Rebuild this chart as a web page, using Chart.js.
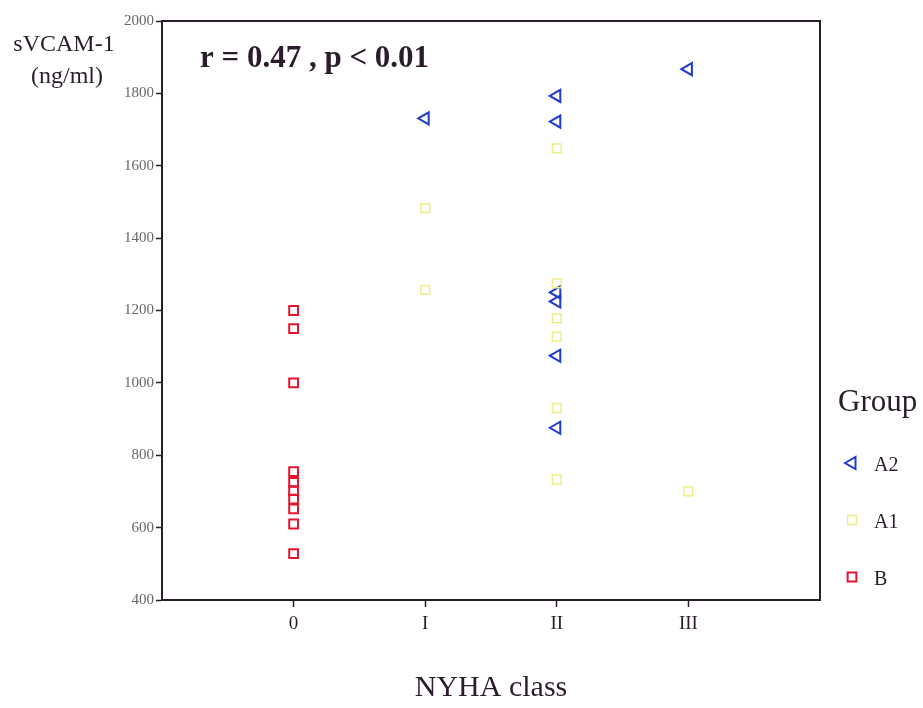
<!DOCTYPE html>
<html>
<head>
<meta charset="utf-8">
<script src="https://cdn.jsdelivr.net/npm/chart.js@4/dist/chart.umd.min.js"></script>
<style>
  html, body { margin: 0; background: #fff; }
  #wrap { width: 923px; height: 708px; }
</style>
</head>
<body>
<div id="wrap"><canvas id="chart" width="923" height="708"></canvas></div>
<script>
// NYHA class categories (x = 0..3)
const classLabels = ['0', 'I', 'II', 'III'];
const yTicks = [400, 600, 800, 1000, 1200, 1400, 1600, 1800, 2000];
const groupNames = ['A2', 'A1', 'B'];

// sVCAM-1 (ng/ml) per group
const a2Class  = [1, 2, 2, 2, 2, 2, 2, 3];
const a2Values = [1731, 1793, 1722, 1250, 1225, 1075, 876, 1867];
const a1Class  = [1, 1, 2, 2, 2, 2, 2, 2, 3];
const a1Values = [1483, 1257, 1648, 1275, 1178, 1128, 930, 733, 700];
const bClass   = [0, 0, 0, 0, 0, 0, 0, 0, 0, 0];
const bValues  = [1200, 1150, 1000, 755, 725, 702, 679, 652, 610, 528];

const statText = 'r = 0.47 , p < 0.01';

const INK = '#2a1c2a';
const SERIF = '"Liberation Serif", "DejaVu Serif", serif';

const toPoints = (xs, ys) => xs.map((x, i) => ({ x: x, y: ys[i] }));

const styles = {
    A2: { pointStyle: 'triangle', rotation: -90, radius: 7, borderWidth: 2, color: '#1f3ccc' },
    A1: { pointStyle: 'rect', rotation: 0, radius: 6.2, borderWidth: 1.5, color: '#eeee84' },
    B:  { pointStyle: 'rect', rotation: 0, radius: 6.2, borderWidth: 2, color: '#e5142e' }
};

function makeSet(name, xs, ys) {
    const s = styles[name];
    return {
        label: name,
        data: toPoints(xs, ys),
        pointStyle: s.pointStyle,
        rotation: s.rotation,
        pointRadius: s.radius,
        pointHoverRadius: s.radius,
        pointBorderWidth: s.borderWidth,
        borderColor: s.color,
        backgroundColor: 'rgba(255,255,255,0)',
        showLine: false
    };
}

const decorPlugin = {
    id: 'decor',
    beforeDatasetsDraw(chart) {
        const { ctx, chartArea: a } = chart;
        ctx.save();
        ctx.strokeStyle = INK;
        ctx.lineWidth = 2;
        ctx.strokeRect(a.left, a.top, a.right - a.left, a.bottom - a.top);
        ctx.restore();
    },
    afterDraw(chart) {
        const ctx = chart.ctx;
        ctx.save();
        ctx.fillStyle = INK;
        ctx.textBaseline = 'middle';

        // y title
        ctx.font = '24px ' + SERIF;
        ctx.textAlign = 'center';
        ctx.fillText('sVCAM-1', 64, 45);
        ctx.fillText('(ng/ml)', 67, 77);

        // correlation note
        ctx.font = 'bold 31px ' + SERIF;
        ctx.textAlign = 'left';
        ctx.fillText(statText, 200, 59);

        // legend
        ctx.font = '31px ' + SERIF;
        ctx.fillText('Group', 838, 403);
        ctx.font = '20px ' + SERIF;
        groupNames.forEach((name, i) => {
            const y = 463 + i * 57;
            const s = styles[name];
            ctx.strokeStyle = s.color;
            ctx.fillStyle = 'rgba(255,255,255,0)';
            ctx.lineWidth = s.borderWidth;
            Chart.helpers.drawPoint(ctx, {
                pointStyle: s.pointStyle, rotation: s.rotation,
                radius: s.radius, borderWidth: s.borderWidth
            }, 852, y);
            ctx.fillStyle = INK;
            ctx.fillText(name, 874, y + 3);
        });
        ctx.restore();
    }
};

new Chart(document.getElementById('chart'), {
    type: 'scatter',
    data: {
        datasets: [
            makeSet('B', bClass, bValues),
            makeSet('A1', a1Class, a1Values),
            makeSet('A2', a2Class, a2Values)
        ]
    },
    options: {
        responsive: false,
        animation: false,
        layout: { padding: { left: 0, top: 21, right: 103, bottom: 0 } },
        plugins: { legend: { display: false }, tooltip: { enabled: false } },
        scales: {
            x: {
                type: 'linear',
                min: -1,
                max: 4,
                afterFit: s => { s.height = 108; },
                afterBuildTicks: s => { s.ticks = [0, 1, 2, 3].map(v => ({ value: v })); },
                ticks: {
                    padding: 6,
                    color: INK,
                    font: { family: SERIF, size: 19 },
                    callback: v => classLabels[v] ?? ''
                },
                grid: { drawOnChartArea: false, tickLength: 7, color: INK, tickWidth: 1.5 },
                border: { color: INK, width: 2 },
                title: {
                    display: true,
                    text: 'NYHA class',
                    color: INK,
                    font: { family: SERIF, size: 30 },
                    padding: { top: 0, bottom: 2 }
                }
            },
            y: {
                min: 400,
                max: 2000,
                afterFit: s => { s.width = 162; },
                afterBuildTicks: s => { s.ticks = yTicks.map(v => ({ value: v })); },
                ticks: {
                    padding: 2,
                    color: '#666',
                    font: { family: SERIF, size: 15 },
                    callback: v => String(v)
                },
                grid: { drawOnChartArea: false, tickLength: 6, color: INK, tickWidth: 1.5 },
                border: { color: INK, width: 2 }
            }
        }
    },
    plugins: [decorPlugin]
});
</script>
</body>
</html>
